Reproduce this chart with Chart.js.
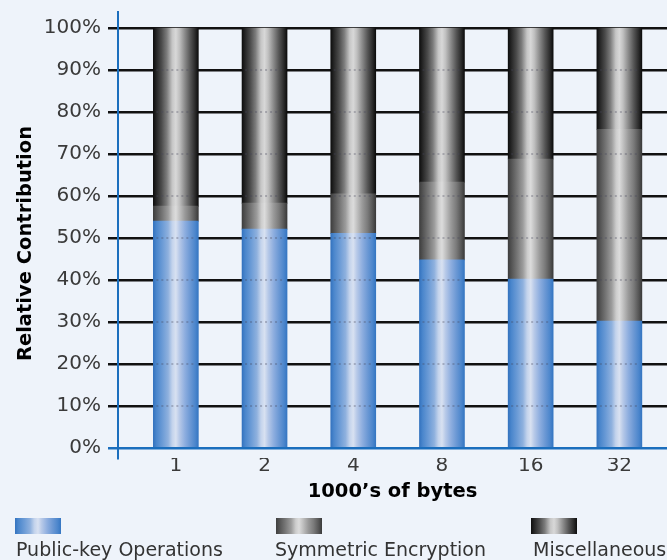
<!DOCTYPE html>
<html>
<head>
<meta charset="utf-8">
<script src="https://cdn.jsdelivr.net/npm/chart.js@4.4.1/dist/chart.umd.min.js"></script>
<style>
  html, body { margin: 0; padding: 0; background: #eef3fa; }
  #wrap { width: 667px; height: 560px; }
  canvas { display: block; }
</style>
</head>
<body>
<div id="wrap"><canvas id="chart" width="667" height="560"></canvas></div>
<script>
// Message size in thousands of bytes
const categories = ['1', '2', '4', '8', '16', '32'];
// Share of total processing time (%) per component
const publicKeyOps = [54.0, 52.1, 51.1, 44.8, 40.2, 30.2];
const symmetricEnc = [3.6, 6.2, 9.4, 18.5, 28.6, 45.7];
const miscellaneous = [42.4, 41.7, 39.5, 36.7, 31.2, 24.1];
const seriesNames = ['Public-key Operations', 'Symmetric Encryption', 'Miscellaneous'];
const yTickValues = [0, 10, 20, 30, 40, 50, 60, 70, 80, 90, 100];
const xTitle = '1000\u2019s of bytes';
const yTitle = 'Relative Contribution';

const FONT = '"DejaVu Sans", "Liberation Sans", Arial, sans-serif';
const AXIS_BLUE = '#1b6ebd';
const BAR_W = 45;

// Cylinder-like shading: dark edges, light centre
const shades = {
  blue: [
    [0, '#3473bf'], [0.07, '#4a86cc'], [0.2, '#6b9bd6'], [0.33, '#8fb1de'],
    [0.42, '#c3d3ec'], [0.5, '#d8e1f1'], [0.58, '#b7c9e8'], [0.7, '#8eaedf'],
    [0.82, '#6b98d4'], [0.93, '#4c86cc'], [1, '#3576c2']
  ],
  gray: [
    [0, '#3e3e3e'], [0.08, '#555555'], [0.2, '#767676'], [0.33, '#9c9c9c'],
    [0.43, '#cdcdcd'], [0.5, '#dcdcdc'], [0.58, '#c2c2c2'], [0.7, '#9a9a9a'],
    [0.82, '#7a7a7a'], [0.93, '#555555'], [1, '#3a3a3a']
  ],
  dark: [
    [0, '#0e0e0e'], [0.07, '#262626'], [0.18, '#4a4a4a'], [0.3, '#7c7c7c'],
    [0.42, '#c6c6c6'], [0.5, '#d8d8d8'], [0.58, '#c0c0c0'], [0.7, '#8a8a8a'],
    [0.82, '#555555'], [0.93, '#2a2a2a'], [1, '#0c0c0c']
  ]
};

function makeGradient(ctx, x0, x1, stops) {
  const g = ctx.createLinearGradient(x0, 0, x1, 0);
  stops.forEach(([p, c]) => g.addColorStop(p, c));
  return g;
}

// per-bar shaded fill, centred on the bar's own x position
function barFill(stops) {
  return (c) => {
    const xs = c.chart.scales && c.chart.scales.x;
    const cx = (c.type === 'data' && xs) ? xs.getPixelForValue(c.parsed.x) : NaN;
    if (!isFinite(cx)) return stops[5][1];
    return makeGradient(c.chart.ctx, cx - BAR_W / 2, cx + BAR_W / 2, stops);
  };
}

const toPoints = (arr) => arr.map((v, i) => ({ x: i, y: v }));

const datasets = [
  { label: seriesNames[0], data: toPoints(publicKeyOps), backgroundColor: barFill(shades.blue), shade: shades.blue },
  { label: seriesNames[1], data: toPoints(symmetricEnc), backgroundColor: barFill(shades.gray), shade: shades.gray },
  { label: seriesNames[2], data: toPoints(miscellaneous), backgroundColor: barFill(shades.dark), shade: shades.dark }
];

// Dotted grid traces over the bars, axis titles and the legend row
const decor = {
  id: 'decor',
  beforeDraw(chart) {
    const ctx = chart.ctx;
    ctx.save();
    ctx.fillStyle = '#eef3fa';
    ctx.fillRect(0, 0, chart.width, chart.height);
    ctx.restore();
  },
  afterDatasetsDraw(chart) {
    const ctx = chart.ctx;
    const y = chart.scales.y;
    ctx.save();
    ctx.strokeStyle = 'rgba(70,70,90,0.3)';
    ctx.lineWidth = 2;
    ctx.setLineDash([2, 3]);
    chart.data.datasets.forEach((ds, di) => {
      chart.getDatasetMeta(di).data.forEach((bar) => {
        const top = Math.min(bar.y, bar.base), bot = Math.max(bar.y, bar.base);
        yTickValues.forEach((v) => {
          if (v === 0) return;
          const py = y.getPixelForValue(v);
          if (py > top + 1 && py < bot - 1) {
            ctx.beginPath();
            ctx.moveTo(bar.x - BAR_W / 2 + 3, py);
            ctx.lineTo(bar.x + BAR_W / 2 - 3, py);
            ctx.stroke();
          }
        });
      });
    });
    ctx.restore();
  },
  afterDraw(chart) {
    const ctx = chart.ctx;
    const area = chart.chartArea;
    ctx.save();
    ctx.fillStyle = '#000';
    ctx.font = 'bold 19.5px ' + FONT;
    ctx.textAlign = 'center';
    ctx.textBaseline = 'alphabetic';
    ctx.fillText(xTitle, (area.left + area.right) / 2, 497);
    ctx.save();
    ctx.translate(31, 243.5);
    ctx.rotate(-Math.PI / 2);
    ctx.fillText(yTitle, 0, 0);
    ctx.restore();

    // legend: swatch above each name
    const boxX = [15, 276, 531];
    const textX = [16, 275, 533];
    ctx.font = '19px ' + FONT;
    ctx.textAlign = 'left';
    chart.data.datasets.forEach((ds, i) => {
      ctx.fillStyle = makeGradient(ctx, boxX[i], boxX[i] + 46, ds.shade);
      ctx.fillRect(boxX[i], 518, 46, 16);
      ctx.fillStyle = '#333333';
      ctx.fillText(ds.label, textX[i], 556);
    });
    ctx.restore();
  }
};

new Chart(document.getElementById('chart'), {
  type: 'bar',
  data: { datasets },
  plugins: [decor],
  options: {
    responsive: false,
    devicePixelRatio: 1,
    animation: false,
    layout: { padding: { top: 12, right: 0, bottom: 62, left: 0 } },
    plugins: { legend: { display: false }, tooltip: { enabled: false } },
    datasets: { bar: { barThickness: BAR_W, borderWidth: 0 } },
    scales: {
      x: {
        type: 'linear',
        stacked: true,
        offset: false,
        min: -0.652,
        max: 5.537,
        grid: { display: false, drawTicks: false, offset: false },
        border: { display: false },
        afterBuildTicks: (s) => { s.ticks = categories.map((_, i) => ({ value: i })); },
        afterFit: (s) => { s.height = 40; },
        ticks: {
          autoSkip: false,
          maxRotation: 0,
          padding: -2,
          color: '#3a3a3a',
          font: { family: FONT, size: 20, lineHeight: 1 },
          callback: (v) => categories[v] ?? ''
        }
      },
      y: {
        stacked: true,
        min: -2.381,
        max: 103.81,
        afterBuildTicks: (s) => { s.ticks = yTickValues.map((v) => ({ value: v })); },
        afterFit: (s) => { s.width = 118; },
        grid: {
          color: (c) => (c.tick && c.tick.value === 0 ? AXIS_BLUE : '#111111'),
          lineWidth: 2.5,
          tickLength: 10
        },
        border: { display: true, color: AXIS_BLUE, width: 2 },
        ticks: {
          padding: 7,
          color: '#3a3a3a',
          font: { family: FONT, size: 20, lineHeight: 0.4 },
          callback: (v) => v + '%'
        }
      }
    }
  }
});
</script>
</body>
</html>
